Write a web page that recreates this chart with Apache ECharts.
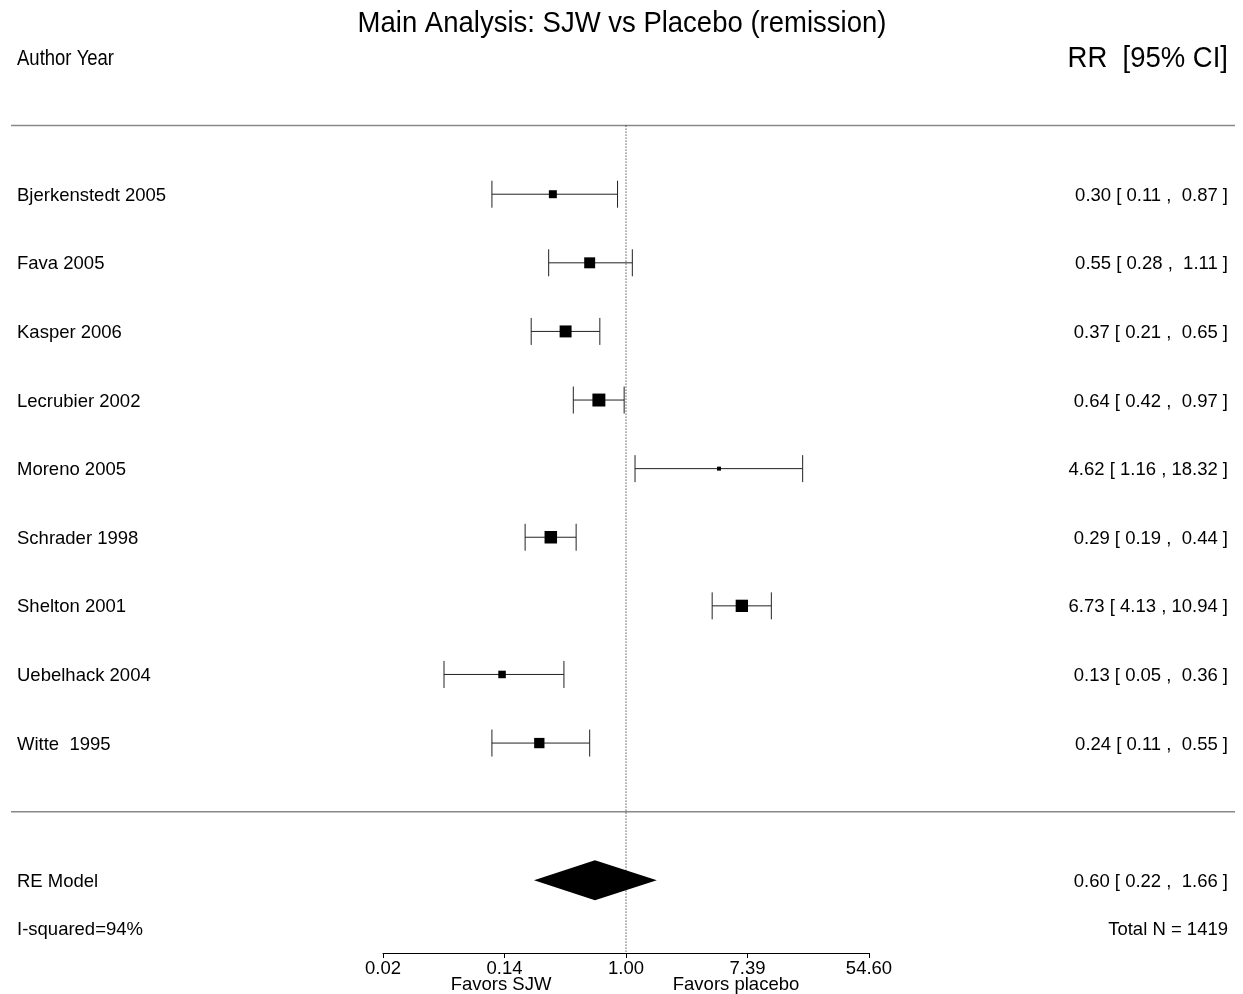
<!DOCTYPE html>
<html>
<head>
<meta charset="utf-8">
<script src="https://cdn.jsdelivr.net/npm/echarts@6/dist/echarts.min.js"></script>
<style>
  html, body { margin: 0; padding: 0; background: #fff; }
  #main { width: 1243px; height: 994px; }
</style>
</head>
<body>
<div id="main"></div>
<script>
// study data (RR with 95% CI), top to bottom
var studies = ['Bjerkenstedt 2005', 'Fava 2005', 'Kasper 2006', 'Lecrubier 2002', 'Moreno 2005',
               'Schrader 1998', 'Shelton 2001', 'Uebelhack 2004', 'Witte  1995'];
var rr    = [0.30, 0.55, 0.37, 0.64, 4.62, 0.29, 6.73, 0.13, 0.24];
var lower = [0.11, 0.28, 0.21, 0.42, 1.16, 0.19, 4.13, 0.05, 0.11];
var upper = [0.87, 1.11, 0.65, 0.97, 18.32, 0.44, 10.94, 0.36, 0.55];
var weights = [8.8, 12.1, 13.2, 14.3, 4.4, 13.8, 13.6, 8.3, 11.4];

var pooled = [0.60, 0.22, 1.66];
var favors = ['Favors SJW', 'Favors placebo'];

var FONT = "'Liberation Sans', Arial, sans-serif";

var n = studies.length;
var rows = studies.map(function (s, i) {
  return [Math.log(rr[i]), n - i, Math.log(lower[i]), Math.log(upper[i]), weights[i]];
});

function fmt(v, w) { var s = v.toFixed(2); while (s.length < w) s = ' ' + s; return s; }
function ciText(e, l, u) { return fmt(e, 4) + ' [ ' + fmt(l, 4) + ' , ' + fmt(u, 5) + ' ]'; }

var labels = studies.map(function (s, i) { return [17, n - i, s, 'left']; })
  .concat([[17, -1, 'RE Model', 'left'], [17, -1.7, 'I-squared=94%', 'left']])
  .concat(studies.map(function (s, i) { return [1228, n - i, ciText(rr[i], lower[i], upper[i]), 'right']; }))
  .concat([[1228, -1, ciText(pooled[0], pooled[1], pooled[2]), 'right'], [1228, -1.7, 'Total N = 1419', 'right']]);

var chart = echarts.init(document.getElementById('main'));
chart.setOption({
  animation: false,
  backgroundColor: '#fff',
  graphic: [
    { type: 'text', x: 622, y: 24, scaleY: 1.1,
      style: { text: 'Main Analysis: SJW vs Placebo (remission)', font: '27.5px ' + FONT, fill: '#000', align: 'center', verticalAlign: 'middle' } },
    { type: 'text', x: 17, y: 59, scaleY: 1.15,
      style: { text: 'Author Year', font: '18.5px ' + FONT, fill: '#000', align: 'left', verticalAlign: 'middle' } },
    { type: 'text', x: 1228, y: 59, scaleY: 1.1,
      style: { text: 'RR  [95% CI]', font: '27.5px ' + FONT, fill: '#000', align: 'right', verticalAlign: 'middle' } },
    { type: 'text', x: 501, y: 985, style: { text: favors[0], font: '18.5px ' + FONT, fill: '#000', align: 'center', verticalAlign: 'middle' } },
    { type: 'text', x: 736, y: 985, style: { text: favors[1], font: '18.5px ' + FONT, fill: '#000', align: 'center', verticalAlign: 'middle' } }
  ],
  grid: [
    { left: 383, right: 374, top: 57, bottom: 41 },
    { left: 0, right: 0, top: 57, bottom: 41 }
  ],
  xAxis: [
    {
      gridIndex: 0, type: 'value', min: -4, max: 4, interval: 2,
      splitLine: { show: false },
      axisLine: { onZero: false, lineStyle: { color: '#000', width: 1 } },
      axisTick: { length: 5, lineStyle: { color: '#000' } },
      axisLabel: { margin: 6, fontSize: 18.5, color: '#000', fontFamily: FONT,
        formatter: function (v) { return Math.exp(v).toFixed(2); } }
    },
    { gridIndex: 1, type: 'value', min: 0, max: 1243, show: false }
  ],
  yAxis: [
    { gridIndex: 0, type: 'value', min: -2.06, max: 11, show: false },
    { gridIndex: 1, type: 'value', min: -2.06, max: 11, show: false }
  ],
  series: [
    {
      // separator lines
      type: 'line', xAxisIndex: 1, yAxisIndex: 1, symbol: 'none', silent: true,
      lineStyle: { color: '#888', width: 1.5 },
      data: [[11, 10], [1235, 10], null, [11, 0], [1235, 0]], connectNulls: false
    },
    {
      // reference line at RR = 1
      type: 'line', xAxisIndex: 0, yAxisIndex: 0, symbol: 'none', silent: true,
      lineStyle: { color: '#000', width: 1, type: [1, 2] },
      data: [[0, 10], [0, -2.06]]
    },
    {
      // study CIs and boxes
      type: 'custom', xAxisIndex: 0, yAxisIndex: 0, clip: false,
      data: rows,
      renderItem: function (params, api) {
        var p = api.coord([api.value(0), api.value(1)]);
        var l = api.coord([api.value(2), api.value(1)]);
        var u = api.coord([api.value(3), api.value(1)]);
        var s = api.value(4) * 0.906;
        var st = { stroke: '#222', lineWidth: 1 };
        return {
          type: 'group',
          children: [
            { type: 'line', shape: { x1: l[0], y1: p[1], x2: u[0], y2: p[1] }, style: st },
            { type: 'line', shape: { x1: l[0], y1: p[1] - 13.5, x2: l[0], y2: p[1] + 13.5 }, style: st },
            { type: 'line', shape: { x1: u[0], y1: p[1] - 13.5, x2: u[0], y2: p[1] + 13.5 }, style: st },
            { type: 'rect', shape: { x: p[0] - s / 2, y: p[1] - s / 2, width: s, height: s }, style: { fill: '#000' } }
          ]
        };
      }
    },
    {
      // pooled diamond
      type: 'custom', xAxisIndex: 0, yAxisIndex: 0, clip: false,
      data: [[Math.log(pooled[0]), -1, Math.log(pooled[1]), Math.log(pooled[2])]],
      renderItem: function (params, api) {
        var y = api.value(1);
        var c = api.coord([api.value(0), y]);
        var l = api.coord([api.value(2), y]);
        var u = api.coord([api.value(3), y]);
        var h = 20;
        return {
          type: 'polygon',
          shape: { points: [[l[0], c[1]], [c[0], c[1] - h], [u[0], c[1]], [c[0], c[1] + h]] },
          style: { fill: '#000' }
        };
      }
    },
    {
      // text columns
      type: 'custom', xAxisIndex: 1, yAxisIndex: 1, clip: false,
      data: labels.map(function (d) { return [d[0], d[1]]; }),
      renderItem: function (params, api) {
        var d = labels[params.dataIndex];
        var p = api.coord([d[0], d[1]]);
        return {
          type: 'text', x: p[0], y: p[1] + 1.5,
          style: { text: d[2], font: '18.5px ' + FONT, fill: '#000', align: d[3], verticalAlign: 'middle' }
        };
      }
    }
  ]
});
</script>
</body>
</html>
